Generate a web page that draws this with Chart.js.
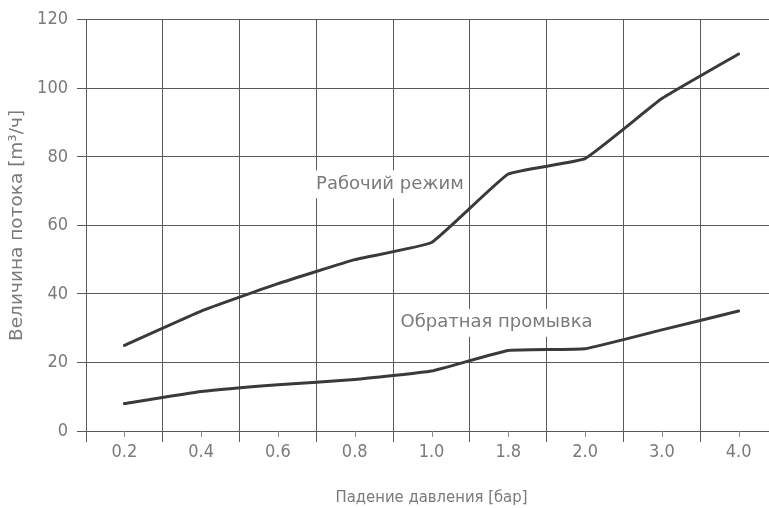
<!DOCTYPE html>
<html>
<head>
<meta charset="utf-8">
<script src="https://cdn.jsdelivr.net/npm/chart.js@4"></script>
<style>
  html, body { margin: 0; padding: 0; background: #fff; overflow: hidden; }
  #wrap { width: 777px; height: 508px; position: relative; }
</style>
</head>
<body>
<div id="wrap"><canvas id="c"></canvas></div>
<script>
// Pressure drop categories, bar
const pressureDrop = ['0.2', '0.4', '0.6', '0.8', '1.0', '1.8', '2.0', '3.0', '4.0'];
// Flow rate, m³/h
const workingMode = [25, 35, 43, 50, 55, 75, 79.5, 97, 110];
const backwash = [8, 11.5, 13.5, 15, 17.5, 23.5, 24, 29.5, 35];
const yTicks = [0, 20, 40, 60, 80, 100, 120];
const seriesNames = ['Рабочий режим', 'Обратная промывка'];

const FONT_C = '"DejaVu Sans Condensed", "DejaVu Sans", sans-serif';
const FONT = '"DejaVu Sans", sans-serif';
const TEXT = '#7a7a7a';
const GRID = '#5a5a5a';
const LINE = '#3a3a3a';

// Inline series captions placed in data coordinates (category index, value)
const captions = [
  { text: seriesNames[0], x: 2.47, y: 72 },
  { text: seriesNames[1], x: 3.57, y: 31.6 }
];

const captionPlugin = {
  id: 'captions',
  beforeDatasetsDraw(chart) {
    const { ctx, scales: { x, y } } = chart;
    ctx.save();
    ctx.font = '18px ' + FONT;
    ctx.textBaseline = 'middle';
    ctx.textAlign = 'left';
    captions.forEach(c => {
      const px = x.getPixelForValue(c.x);
      const py = y.getPixelForValue(c.y);
      const w = ctx.measureText(c.text).width;
      ctx.fillStyle = '#fff';
      ctx.fillRect(px + 1, py - 14, w + 4, 28);
      ctx.fillStyle = TEXT;
      ctx.fillText(c.text, px + 2, py);
    });
    ctx.restore();
  }
};

// Short marks under the axis at each category centre
const centreTicks = {
  id: 'centreTicks',
  afterDraw(chart) {
    const { ctx, scales: { x }, chartArea } = chart;
    ctx.save();
    ctx.strokeStyle = '#8a8a8a';
    ctx.lineWidth = 1;
    pressureDrop.forEach((_, i) => {
      const px = Math.round(x.getPixelForValue(i)) + 0.5;
      ctx.beginPath();
      ctx.moveTo(px, chartArea.bottom);
      ctx.lineTo(px, chartArea.bottom + 6);
      ctx.stroke();
    });
    ctx.restore();
  }
};

new Chart(document.getElementById('c'), {
  type: 'line',
  data: {
    labels: pressureDrop,
    datasets: [
      { label: seriesNames[0], data: workingMode, borderColor: LINE, borderWidth: 3, pointRadius: 0, tension: 0.1, borderJoinStyle: 'round', borderCapStyle: 'round' },
      { label: seriesNames[1], data: backwash, borderColor: LINE, borderWidth: 3, pointRadius: 0, tension: 0.1, borderJoinStyle: 'round', borderCapStyle: 'round' }
    ]
  },
  options: {
    responsive: true,
    maintainAspectRatio: false,
    animation: false,
    layout: { padding: { top: 17, right: 0, left: 0, bottom: 0 } },
    plugins: { legend: { display: false }, tooltip: { enabled: false }, title: { display: false } },
    scales: {
      x: {
        type: 'category',
        offset: true,
        grid: { offset: true, color: GRID, lineWidth: 1, tickLength: 11, tickColor: GRID },
        border: { color: GRID, width: 1 },
        ticks: { color: TEXT, font: { family: FONT_C, size: 18 }, padding: 0, maxRotation: 0, autoSkip: false },
        title: { display: true, text: 'Падение давления [бар]', color: TEXT, font: { family: FONT_C, size: 16.5 }, padding: { top: 13, bottom: 0 } },
        afterFit(s) { s.height = 77; }
      },
      y: {
        min: 0,
        max: 120,
        afterBuildTicks(s) { s.ticks = yTicks.map(v => ({ value: v })); },
        grid: { color: GRID, lineWidth: 1, tickLength: 9, tickColor: GRID },
        border: { color: GRID, width: 1 },
        ticks: { color: TEXT, font: { family: FONT_C, size: 18 }, padding: 9 },
        title: { display: true, text: 'Величина потока [m³/ч]', color: TEXT, font: { family: FONT, size: 18.5 }, padding: { top: 6, bottom: 0 } },
        afterFit(s) { s.width = 86; }
      }
    }
  },
  plugins: [captionPlugin, centreTicks]
});
</script>
</body>
</html>
